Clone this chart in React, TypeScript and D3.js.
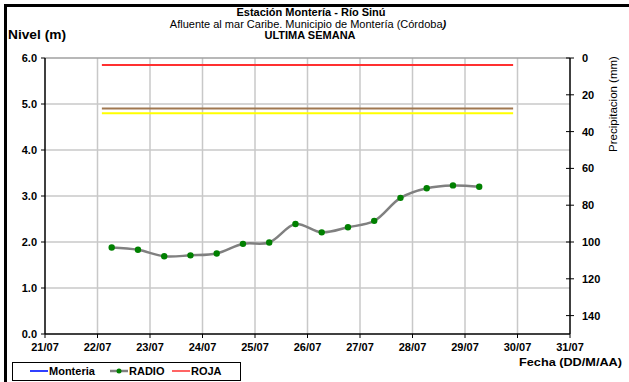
import React from "react";
import * as d3 from "d3";

const dayTicks = ["21/07", "22/07", "23/07", "24/07", "25/07", "26/07", "27/07", "28/07", "29/07", "30/07", "31/07"];
const levelTicks = [0, 1, 2, 3, 4, 5, 6];
const precipTicks = [0, 20, 40, 60, 80, 100, 120, 140];

// RADIO series: readings every 12 h starting 22/07 06:30
const radioTimes = [
  "2023-07-22T06:30", "2023-07-22T18:30", "2023-07-23T06:30", "2023-07-23T18:30",
  "2023-07-24T06:30", "2023-07-24T18:30", "2023-07-25T06:30", "2023-07-25T18:30",
  "2023-07-26T06:30", "2023-07-26T18:30", "2023-07-27T06:30", "2023-07-27T18:30",
  "2023-07-28T06:30", "2023-07-28T18:30", "2023-07-29T06:30",
];
const radioValues = [1.88, 1.83, 1.69, 1.71, 1.75, 1.96, 1.99, 2.39, 2.21, 2.32, 2.46, 2.96, 3.17, 3.23, 3.2];

// Threshold lines
const thresholdNames = ["ROJA", "NARANJA", "AMARILLA"];
const thresholdValues = [5.85, 4.9, 4.8];
const thresholdColors = ["#ff3030", "#a07850", "#ffff00"];
const thresholdStart = "2023-07-22T02:00";
const thresholdEnd = "2023-07-29T22:00";

const legendNames = ["Monteria", "RADIO", "ROJA"];

const W = 629;
const H = 382;
const M = { left: 45, right: 570, top: 58, bottom: 334 };
const FONT = "'Liberation Sans', Arial, sans-serif";

export default function App() {
  const x = d3
    .scaleTime()
    .domain([new Date("2023-07-21T00:00"), new Date("2023-07-31T00:00")])
    .range([M.left, M.right]);
  const y = d3.scaleLinear().domain([0, 6]).range([M.bottom, M.top]);
  const yR = d3.scaleLinear().domain([0, 150]).range([M.top, M.bottom]);

  const dayDates = dayTicks.map((_, i) => new Date(2023, 6, 21 + i));
  const pts = radioTimes.map((t, i) => ({ t: new Date(t), v: radioValues[i] }));
  const line = d3
    .line<{ t: Date; v: number }>()
    .x((d) => x(d.t))
    .y((d) => y(d.v))
    .curve(d3.curveCatmullRom.alpha(0.5));

  const grid = "#c8c8c8";

  return (
    <svg
      width={W}
      height={H}
      style={{ position: "absolute", left: 0, top: 0, background: "#fff" }}
      fontFamily={FONT}
    >
      <rect x={0} y={0} width={W} height={H} fill="#fff" />
      {/* outer frame */}
      <path d={`M5.5,${H + 5} V5.5 H${W + 5}`} fill="none" stroke="#000" strokeWidth={3} />

      {/* titles */}
      <text x={311} y={16} textAnchor="middle" fontSize={11} fontWeight="bold">
        Estación Montería  - Río Sinú
      </text>
      <text x={308} y={28} textAnchor="middle" fontSize={11}>
        Afluente al mar Caribe. Municipio de Montería (Córdoba<tspan fontStyle="italic" fontWeight="bold">)</tspan>
      </text>
      <text x={310} y={39} textAnchor="middle" fontSize={11} fontWeight="bold">
        ULTIMA SEMANA
      </text>
      <text x={8} y={39} fontSize={12} fontWeight="bold" textLength={58} lengthAdjust="spacingAndGlyphs">
        Nivel (m)
      </text>

      {/* grid */}
      {dayDates.slice(1, -1).map((d, i) => (
        <line key={"vg" + i} x1={x(d)} x2={x(d)} y1={M.top} y2={M.bottom} stroke={grid} strokeWidth={1.5} />
      ))}
      {levelTicks.slice(1).map((v) => (
        <line key={"hg" + v} x1={M.left} x2={M.right} y1={y(v)} y2={y(v)} stroke={v === 6 ? "#a0a0a0" : grid} strokeWidth={1.5} />
      ))}

      {/* thresholds */}
      {thresholdValues.map((v, i) => (
        <line
          key={thresholdNames[i]}
          x1={x(new Date(thresholdStart))}
          x2={x(new Date(thresholdEnd))}
          y1={y(v)}
          y2={y(v)}
          stroke={thresholdColors[i]}
          strokeWidth={2}
        />
      ))}

      {/* RADIO series */}
      <path d={line(pts) || ""} fill="none" stroke="#808080" strokeWidth={2.5} />
      {pts.map((p, i) => (
        <circle key={"p" + i} cx={x(p.t)} cy={y(p.v)} r={3.2} fill="#008000" />
      ))}

      {/* left axis */}
      <line x1={M.left} x2={M.left} y1={M.top} y2={M.bottom} stroke="#000" strokeWidth={1.5} />
      {levelTicks.map((v) => (
        <g key={"lt" + v}>
          <line x1={M.left - 4} x2={M.left} y1={y(v)} y2={y(v)} stroke="#000" strokeWidth={1} />
          <text x={37} y={y(v) + 4} textAnchor="end" fontSize={11} fontWeight="bold">
            {v.toFixed(1)}
          </text>
        </g>
      ))}

      {/* bottom axis */}
      <line x1={M.left} x2={M.right} y1={M.bottom} y2={M.bottom} stroke="#000" strokeWidth={1.5} />
      {dayDates.map((d, i) => (
        <g key={"xt" + i}>
          <line x1={x(d)} x2={x(d)} y1={M.bottom} y2={M.bottom + 4} stroke="#000" strokeWidth={1} />
          <text x={x(d)} y={351} textAnchor="middle" fontSize={11} fontWeight="bold">
            {dayTicks[i]}
          </text>
        </g>
      ))}

      {/* right axis */}
      <line x1={M.right} x2={M.right} y1={M.top} y2={M.bottom} stroke="#000" strokeWidth={1.5} />
      {precipTicks.map((v) => (
        <g key={"rt" + v}>
          <line x1={M.right - 4} x2={M.right + 4} y1={yR(v)} y2={yR(v)} stroke="#000" strokeWidth={1} />
          <text x={582} y={yR(v) + 4} fontSize={11} fontWeight="bold">
            {v}
          </text>
        </g>
      ))}
      <text
        transform={`translate(617,104) rotate(-90)`}
        textAnchor="middle"
        fontSize={11.5}
      >
        Precipitacion (mm)
      </text>

      <text x={622} y={366} textAnchor="end" fontSize={11} fontWeight="bold" textLength={103} lengthAdjust="spacingAndGlyphs">
        Fecha (DD/M/AA)
      </text>

      {/* legend */}
      <rect x={12.5} y={362.5} width={228} height={18} fill="#fff" stroke="#000" strokeWidth={1} />
      <line x1={30} x2={48} y1={371} y2={371} stroke="#3040ff" strokeWidth={2} />
      <text x={49} y={375} fontSize={11} fontWeight="bold">{legendNames[0]}</text>
      <line x1={110} x2={128} y1={371} y2={371} stroke="#808080" strokeWidth={2.5} />
      <circle cx={119} cy={371} r={2.5} fill="#008000" />
      <text x={129} y={375} fontSize={11} fontWeight="bold">{legendNames[1]}</text>
      <line x1={172} x2={190} y1={371} y2={371} stroke="#ff3030" strokeWidth={1.5} />
      <text x={191} y={375} fontSize={11} fontWeight="bold">{legendNames[2]}</text>
    </svg>
  );
}
